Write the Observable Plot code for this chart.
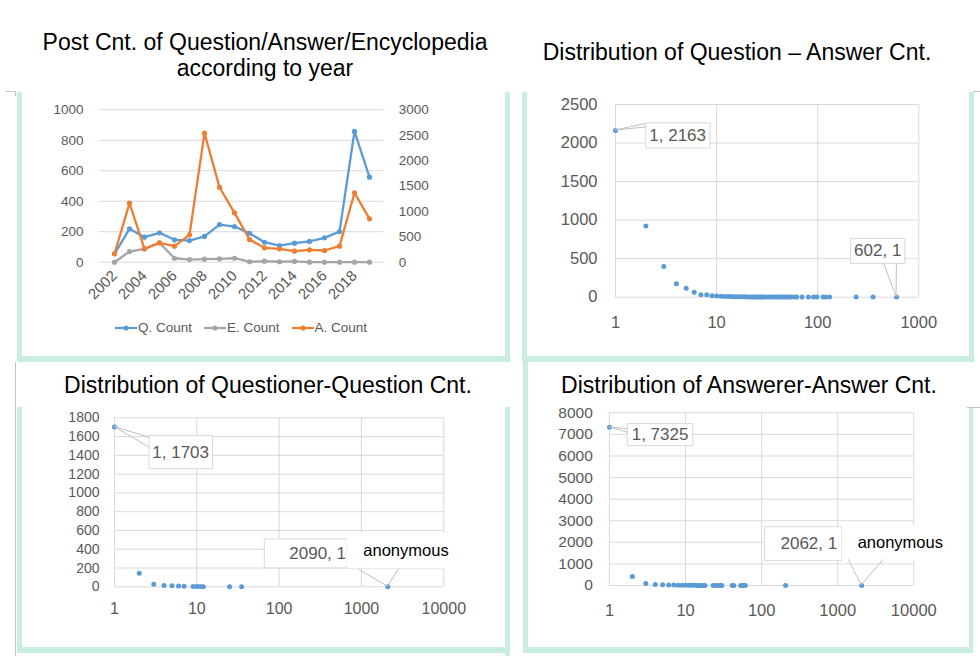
<!DOCTYPE html>
<html><head><meta charset="utf-8">
<script src="https://cdn.jsdelivr.net/npm/d3@7"></script>
<script src="https://cdn.jsdelivr.net/npm/@observablehq/plot@0.6"></script>
<style>
body{margin:0;background:#fff;}
#root{position:relative;width:980px;height:656px;overflow:hidden;font-family:"Liberation Sans",Arial,sans-serif;}
.title{position:absolute;text-align:center;font-size:23px;line-height:26px;color:#000;white-space:nowrap;}
.bd{position:absolute;background:#c9eedf;}
.gl{position:absolute;background:#c4c4c4;}
.leg{position:absolute;display:flex;align-items:center;font-size:13.5px;color:#595959;}
.leg span{margin-right:12px;margin-left:1px;}
</style></head><body><div id="root"></div>
<script>
// ---------- Data ----------
const years = [2002,2003,2004,2005,2006,2007,2008,2009,2010,2011,2012,2013,2014,2015,2016,2017,2018,2019];
const qCount = [55,219,164,193,147,142,169,247,234,190,131,109,125,136,160,201,858,558];
const eCount = [0,70,88,127,26,17,20,22,26,3,7,3,5,0,0,0,0,0];
const aCount = [165,1161,264,381,315,539,2540,1476,972,446,283,263,217,244,230,315,1366,854];
const leftTicks1 = [0,200,400,600,800,1000];
const rightTicks1 = [0,500,1000,1500,2000,2500,3000];
const yearLabels = [2002,2004,2006,2008,2010,2012,2014,2016,2018];
const seriesNames = ["Q. Count","E. Count","A. Count"];
const seriesColors = ["#5B9BD5","#A5A5A5","#ED7D31"];

// Question - Answer count distribution
const qaX = [1,2,3,4,5,6,7,8,9,10,11,12,13,14,15,16,17,18,19,20,21,22,23,24,25,26,27,28,29,30,
  32,34,35,37,39,41,43,45,48,50,52,55,59,62,70,81,91,98,113,120,131,240,353,602];
const qaY = [2163,925,398,174,117,65,31,31,18,16,12,10,9,8,7,6,6,5,5,4,4,4,3,3,3,3,2,2,2,2,
  2,2,2,1,2,1,1,1,1,1,1,1,1,1,1,1,1,1,1,1,1,1,1,1];
const qaXTicks = [1,10,100,1000];
const qaYTicks = [0,500,1000,1500,2000,2500];

// Questioner - Question count distribution
const qqX = [1,2,3,4,5,6,7,9,10,11,12,25,35,2090];
const qqY = [1703,145,28,14,10,8,6,2,3,2,1,1,1,1];
const qqXTicks = [1,10,100,1000,10000];
const qqYTicks = [0,200,400,600,800,1000,1200,1400,1600,1800];

// Answerer - Answer count distribution
const aaX = [1,2,3,4,5,6,7,8,9,10,11,12,13,14,15,16,17,18,23,25,27,29,30,41,43,53,56,58,61,206,2062];
const aaY = [7325,417,93,52,38,28,20,16,12,10,8,7,6,5,5,4,4,3,3,2,2,2,2,2,1,1,1,1,1,1,1];
const aaXTicks = [1,10,100,1000,10000];
const aaYTicks = [0,1000,2000,3000,4000,5000,6000,7000,8000];

const titles = [
  "Post Cnt. of Question/Answer/Encyclopedia<br>according to year",
  "Distribution of Question \u2013 Answer Cnt.",
  "Distribution of Questioner-Question Cnt.",
  "Distribution of Answerer-Answer Cnt."
];

// ---------- Layout helpers ----------
const FONT = '"Liberation Sans", Arial, sans-serif';
const GRID = "#d9d9d9";
const TXT = "#595959";
const DOT = "#5B9BD5";
const root = document.getElementById("root");

function place(el, left, top) {
  el.style.position = "absolute"; el.style.left = left + "px"; el.style.top = top + "px";
  root.appendChild(el); return el;
}
function div(cls, css, html) {
  const d = document.createElement("div"); d.className = cls; d.style.cssText = css;
  if (html) d.innerHTML = html; root.appendChild(d); return d;
}

// frames (mint borders)
[[17,92,5,266],[17,356,493,6],[505,92,5,268],[522,92,5,268],[969,92,5,268],[522,356,452,6],
 [17,407,5,246],[17,647,488,6],[505,407,5,249],[523,360,5,293],[523,647,450,6],[969,407,4,246]]
 .forEach(([x,y,w,h]) => div("bd", `left:${x}px;top:${y}px;width:${w}px;height:${h}px;`));
[[6,91,10,1],[15,91,1,5],[15,362,1,294],[973,91,7,1],[967,407,13,1]]
 .forEach(([x,y,w,h]) => div("gl", `left:${x}px;top:${y}px;width:${w}px;height:${h}px;`));

// titles
div("title", "left:20px;top:29px;width:490px;", titles[0]);
div("title", "left:517px;top:39px;width:440px;", titles[1]);
div("title", "left:18px;top:372px;width:500px;", titles[2]);
div("title", "left:519px;top:372px;width:460px;", titles[3]);

function callout(svg, chart, c) {
  const px = chart.scale("x").apply(c.x), py = chart.scale("y").apply(c.y);
  const g = d3.select(svg).append("g").attr("aria-label", "callout");
  const rect = g.append("rect");
  const t = g.append("text").attr("x", px + c.dx).attr("y", py + c.dy).attr("dy", "0.35em")
    .attr("text-anchor", c.anchor || "start").attr("font-size", c.size)
    .attr("font-family", FONT).attr("fill", c.color || TXT).text(c.label);
  const b = t.node().getBBox();
  const [pl, pr, pt, pb] = c.pad;
  rect.attr("x", b.x - pl).attr("y", b.y - pt).attr("width", b.width + pl + pr).attr("height", b.height + pt + pb)
    .attr("fill", "#fff").attr("stroke", c.border ? GRID : "none").attr("stroke-width", 1);
  (c.leaders || []).forEach(([ox, oy]) => {
    d3.select(svg).append("line").attr("x1", px).attr("y1", py).attr("x2", px + ox).attr("y2", py + oy)
      .attr("stroke", "#bfbfbf").attr("stroke-width", 1);
  });
}

// ---------- Panel 1 ----------
const q = years.map((y, i) => ({year: y, v: qCount[i]}));
const e = years.map((y, i) => ({year: y, v: eCount[i]}));
const a = years.map((y, i) => ({year: y, v: aCount[i] / 3})); // secondary axis (0-3000) mapped onto 0-1000
const chart1 = Plot.plot({
  width: 510, height: 265, marginLeft: 99, marginRight: 126.7, marginTop: 19.3, marginBottom: 93.3,
  style: {fontFamily: FONT, color: TXT, background: "transparent", overflow: "visible"},
  x: {type: "point", domain: years, padding: 0.5},
  y: {domain: [0, 1000]},
  marks: [
    Plot.gridY(leftTicks1, {stroke: GRID, strokeOpacity: 1}),
    Plot.axisY(leftTicks1, {tickSize: 0, tickPadding: 16, fontSize: 13.5, label: null, tickFormat: d3.format("d")}),
    Plot.text(rightTicks1, {y: d => d / 3, text: d => String(d), frameAnchor: "right", textAnchor: "start", dx: 15, fontSize: 13.5, fill: TXT}),
    Plot.axisX(yearLabels, {tickSize: 0, tickRotate: -45, tickPadding: 11, fontSize: 15, label: null, tickFormat: d => String(d)}),
    Plot.line(q, {x: "year", y: "v", stroke: seriesColors[0], strokeWidth: 2.3}),
    Plot.dot(q, {x: "year", y: "v", r: 2.6, fill: seriesColors[0]}),
    Plot.line(e, {x: "year", y: "v", stroke: seriesColors[1], strokeWidth: 2.3}),
    Plot.dot(e, {x: "year", y: "v", r: 2.6, fill: seriesColors[1]}),
    Plot.line(a, {x: "year", y: "v", stroke: seriesColors[2], strokeWidth: 2.3}),
    Plot.dot(a, {x: "year", y: "v", r: 2.6, fill: seriesColors[2]})
  ]
});
place(chart1, 0, 90);

// legend
const leg = div("leg", "left:115px;top:320px;");
seriesNames.forEach((n, i) => {
  leg.insertAdjacentHTML("beforeend",
    `<svg width="22" height="12"><line x1="0" x2="22" y1="6" y2="6" stroke="${seriesColors[i]}" stroke-width="2.2"/><circle cx="11" cy="6" r="2.6" fill="${seriesColors[i]}"/></svg><span>${n}</span>`);
});

// ---------- scatter panels ----------
function scatter(opts) {
  const data = opts.xs.map((x, i) => ({x, y: opts.ys[i]}));
  return Plot.plot({
    width: opts.width, height: opts.height,
    marginLeft: opts.ml, marginRight: opts.mr, marginTop: opts.mt, marginBottom: opts.mb,
    style: {fontFamily: FONT, color: TXT, background: "transparent", overflow: "visible"},
    x: {type: "log", domain: [opts.xTicks[0], opts.xTicks[opts.xTicks.length - 1]]},
    y: {domain: [0, opts.yTicks[opts.yTicks.length - 1]]},
    marks: [
      Plot.gridY(opts.yTicks, {stroke: GRID, strokeOpacity: 1}),
      Plot.gridX(opts.xTicks, {stroke: GRID, strokeOpacity: 1}),
      Plot.axisY(opts.yTicks, {tickSize: 0, tickPadding: opts.yPad, fontSize: opts.yFont, label: null, tickFormat: d3.format("d")}),
      Plot.axisX(opts.xTicks, {tickSize: 0, tickPadding: opts.xPad, fontSize: opts.xFont, label: null, tickFormat: d3.format("d")}),
      Plot.dot(data, {x: "x", y: "y", r: 2.5, fill: DOT})
    ]
  });
}

// Panel 2
const chart2 = scatter({xs: qaX, ys: qaY, xTicks: qaXTicks, yTicks: qaYTicks, width: 455, height: 250,
  ml: 100, mr: 51.7, mt: 14, mb: 43.3, yPad: 18, xPad: 19, yFont: 16.5, xFont: 16.5});
place(chart2, 515, 90);
callout(chart2, chart2, {x: qaX[0], y: qaY[0], label: `${qaX[0]}, ${qaY[0]}`, dx: 34.3, dy: 5, size: 17, pad: [3.6, 4, 3, 3], border: true,
  leaders: [[30.7, -6.5], [30.7, -3]]});
const qaL = qaX.length - 1;
callout(chart2, chart2, {x: qaX[qaL], y: qaY[qaL], label: `${qaX[qaL]}, ${qaY[qaL]}`, dx: -18.3, dy: -46.2, anchor: "middle", size: 17, pad: [3.5, 3.5, 3, 3], border: true,
  leaders: [[-12.3, -33.4], [0.4, -33.4]]});

// Panel 3
const chart3 = scatter({xs: qqX, ys: qqY, xTicks: qqXTicks, yTicks: qqYTicks, width: 505, height: 245,
  ml: 114, mr: 61.7, mt: 17.3, mb: 58.7, yPad: 15, xPad: 15.5, yFont: 14, xFont: 16});
place(chart3, 0, 400);
callout(chart3, chart3, {x: qqX[0], y: qqY[0], label: `${qqX[0]}, ${qqY[0]}`, dx: 38.3, dy: 25.2, size: 17, pad: [3.3, 3.5, 7, 7], border: true,
  leaders: [[35, 10.8], [35, 20.8]]});
const qqL = qqX.length - 1;
callout(chart3, chart3, {x: qqX[qqL], y: qqY[qqL], label: `${qqX[qqL]}, ${qqY[qqL]}`, dx: -41.3, dy: -33.3, anchor: "end", size: 17, pad: [25, 1, 5, 5], border: true});
callout(chart3, chart3, {x: qqX[qqL], y: qqY[qqL], label: "anonymous", dx: -24, dy: -35.6, size: 16.5, color: "#000", pad: [16.6, 3, 8.5, 8.5], border: false,
  leaders: [[-29, -17], [11, -17]]});

// Panel 4
const chart4 = scatter({xs: aaX, ys: aaY, xTicks: aaXTicks, yTicks: aaYTicks, width: 455, height: 245,
  ml: 94, mr: 56.7, mt: 12.3, mb: 60, yPad: 16.7, xPad: 18.5, yFont: 15.5, xFont: 16.5});
place(chart4, 515, 400);
callout(chart4, chart4, {x: aaX[0], y: aaY[0], label: `${aaX[0]}, ${aaY[0]}`, dx: 22.7, dy: 7.3, size: 17, pad: [4.4, 4.4, 1.5, 1.5], border: true,
  leaders: [[18.3, 2], [18.3, 5.5]]});
const aaL = aaX.length - 1;
callout(chart4, chart4, {x: aaX[aaL], y: aaY[aaL], label: `${aaX[aaL]}, ${aaY[aaL]}`, dx: -23.9, dy: -41.7, anchor: "end", size: 17, pad: [16, 4.4, 7.5, 7.5], border: true});
callout(chart4, chart4, {x: aaX[aaL], y: aaY[aaL], label: "anonymous", dx: -3.5, dy: -42.3, size: 16.5, color: "#000", pad: [16, 5, 8.5, 8.5], border: false,
  leaders: [[-12.9, -25.7], [22.1, -25.7]]});
</script></body></html>
